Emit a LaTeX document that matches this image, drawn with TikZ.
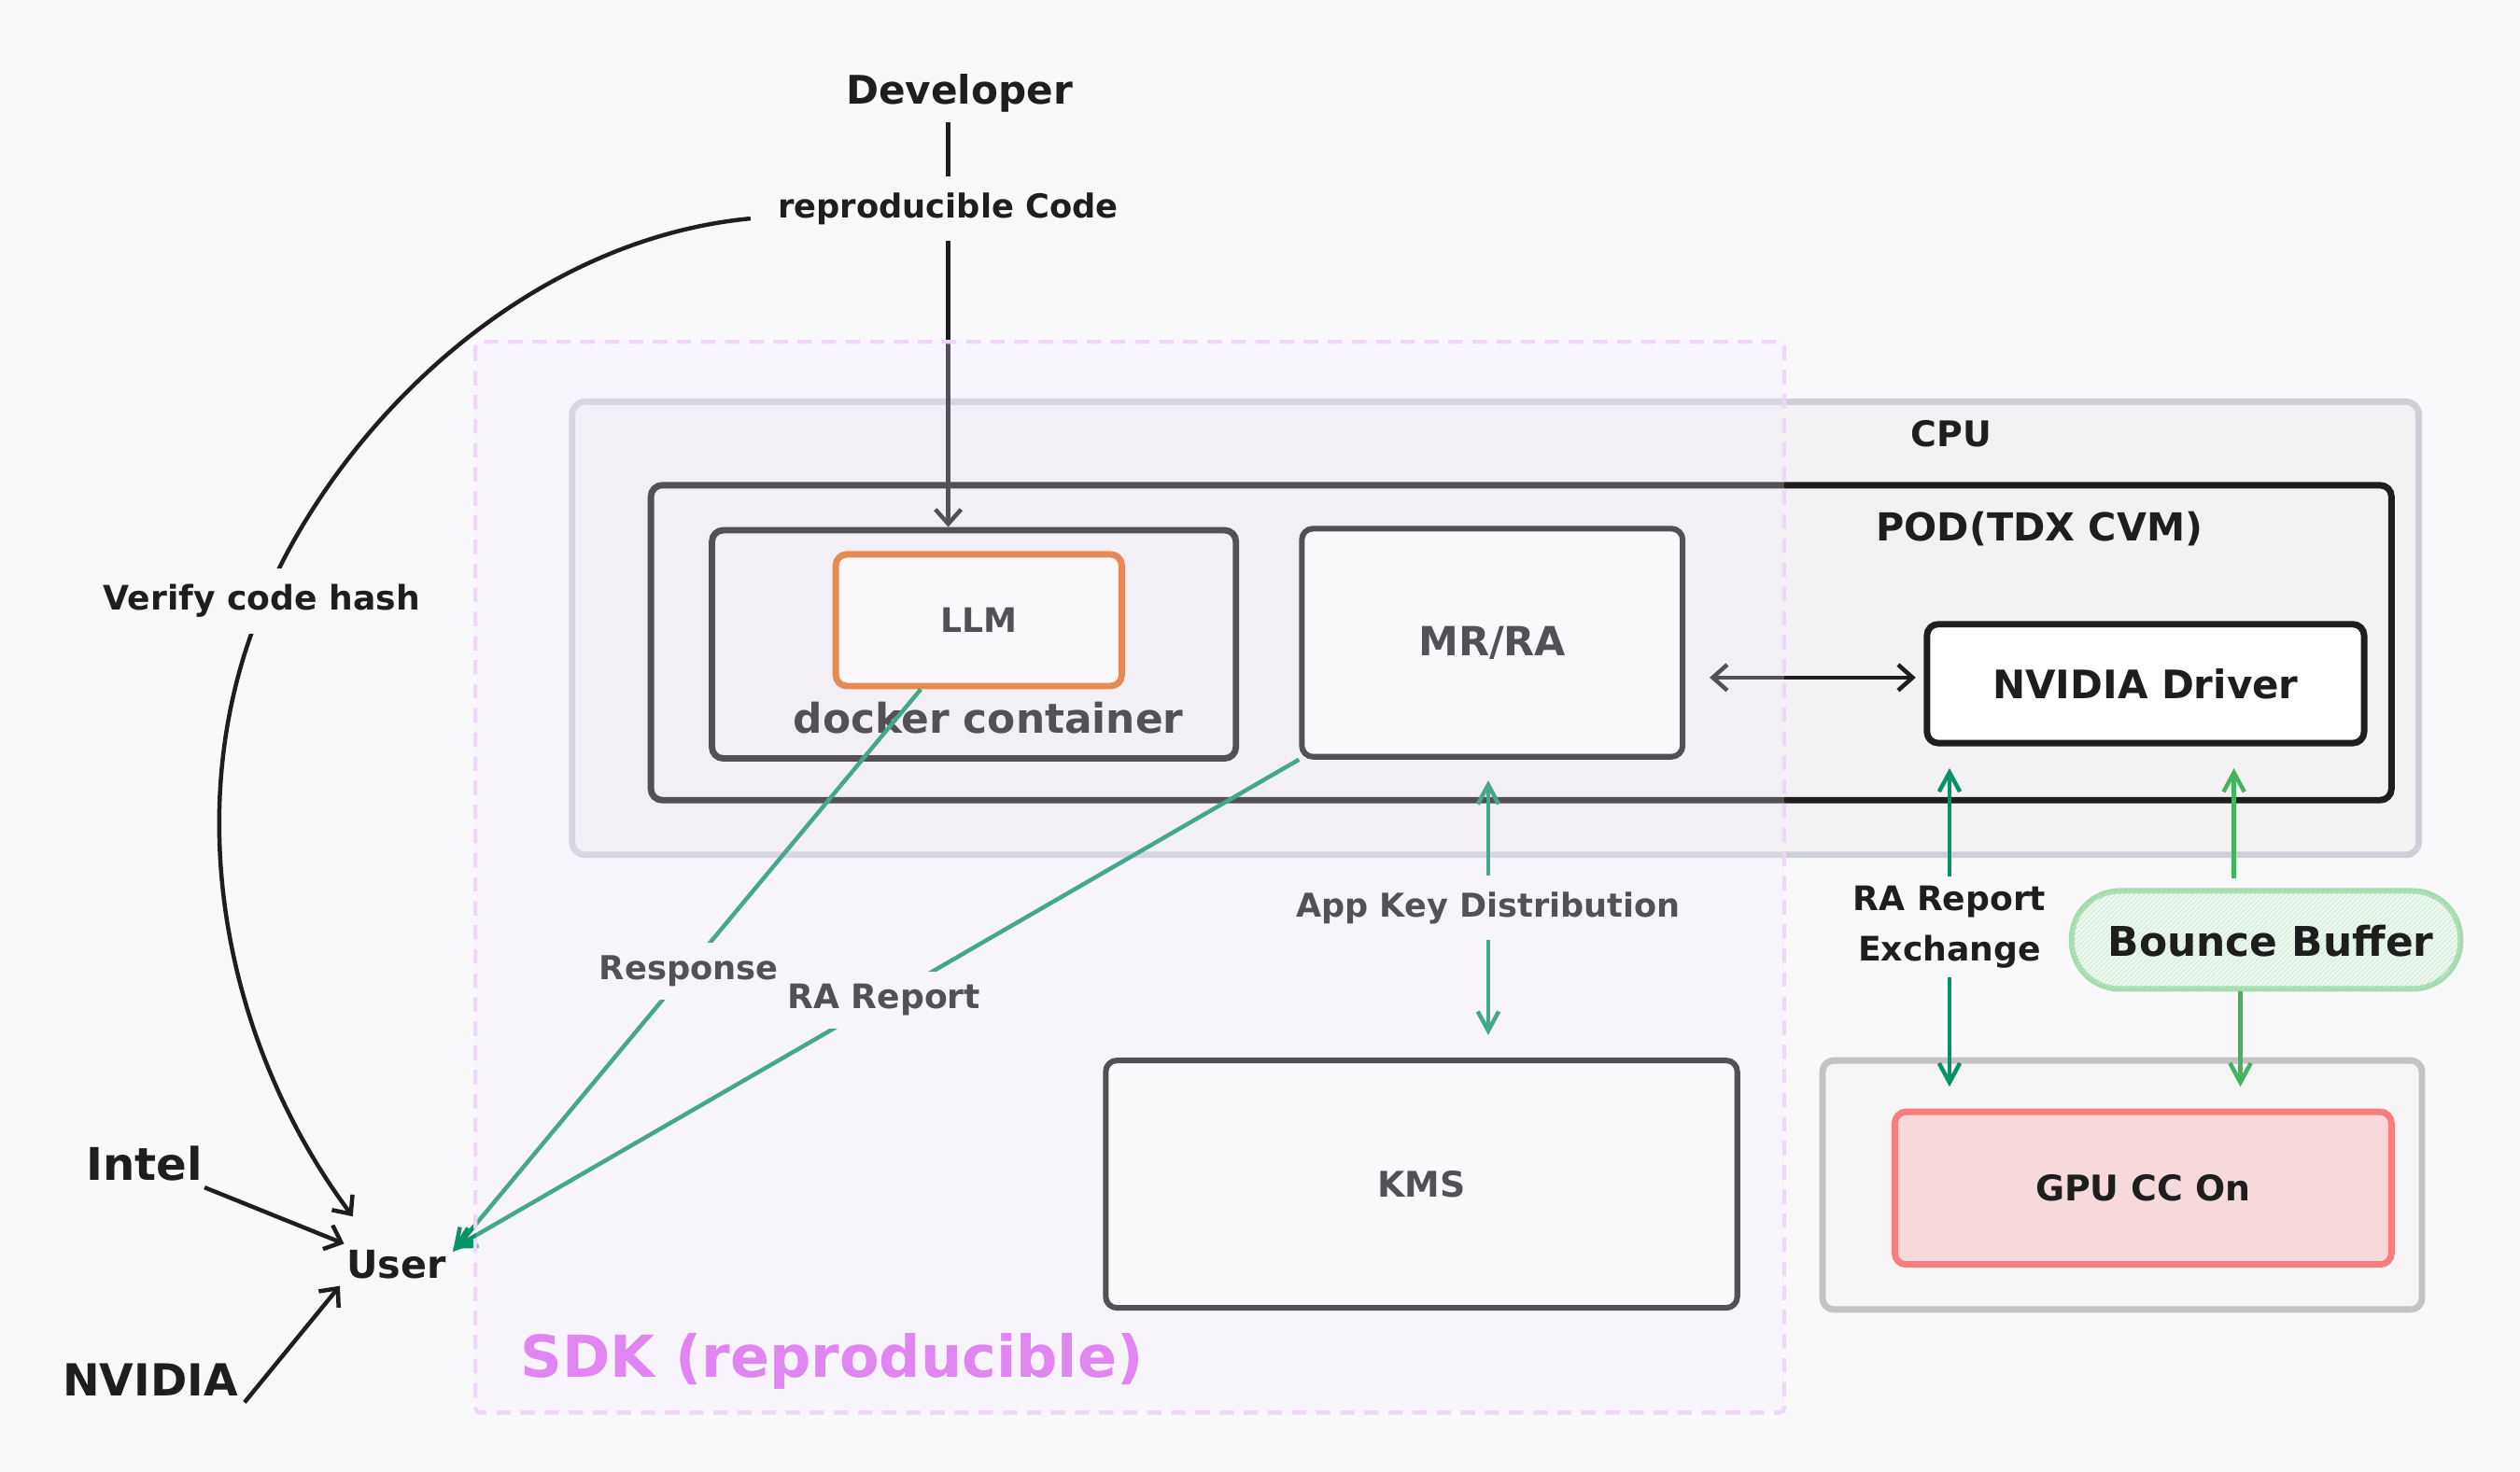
\documentclass[tikz,border=0pt]{standalone}
\usepackage{fontspec}
\setmainfont{DejaVu Sans}
\usetikzlibrary{arrows.meta,patterns,calc}
\definecolor{bg}{HTML}{F9F9FB}
\definecolor{ink}{HTML}{1E1E1E}
\definecolor{cpufill}{HTML}{F2F2F5}
\definecolor{cpuline}{HTML}{CDD1D7}
\definecolor{llmline}{HTML}{E2691A}
\definecolor{grteal}{HTML}{099268}
\definecolor{grlight}{HTML}{45B45F}
\definecolor{bbline}{HTML}{A6DAAF}
\definecolor{bbfill}{HTML}{EEF8F0}
\definecolor{bbhatch}{HTML}{C5E9CB}
\definecolor{gpuoline}{HTML}{C3C3C3}
\definecolor{gpuofill}{HTML}{F5F5F5}
\definecolor{gpuiline}{HTML}{F87D7D}
\definecolor{gpuifill}{HTML}{F6D9DA}
\definecolor{sdkfill}{HTML}{F4EAFB}
\definecolor{sdkline}{HTML}{F0D6F6}
\definecolor{sdktext}{HTML}{E085F2}
\newcommand\fsz[1]{\fontsize{#1}{#1}\selectfont\bfseries}
\begin{document}
\begin{tikzpicture}[x=1pt,y=-1pt,
  box/.style={draw=ink, line width=3.5pt, rounded corners=7pt, fill=white, inner sep=0pt, text=ink},
  txt/.style={text=ink, inner sep=4pt},
  lbl/.style={text=ink, fill=bg, inner xsep=6pt, inner ysep=10pt},
  barb/.tip={Straight Barb[length=9pt,width=16pt]},
  gbarb/.tip={Straight Barb[length=12pt,width=13pt]},
  barr/.style={draw=ink, line width=2.6pt, -barb},
  bdarr/.style={draw=ink, line width=2.6pt, barb-barb},
  tarr/.style={draw=grteal, line width=2.6pt, -gbarb},
  tdarr/.style={draw=grteal, line width=2.6pt, gbarb-gbarb},
  larr/.style={draw=grlight, line width=2.6pt, -gbarb}
]
\fill[bg] (0,0) rectangle (1568,916);
\useasboundingbox (0,0) rectangle (1568,916);

% containers
\node[draw=cpuline, fill=cpufill, line width=4pt, rounded corners=8pt, minimum width=1149pt, minimum height=282pt, inner sep=0pt] (cpu) at (930.5,391) {};
\node[txt, font=\fsz{22}] (cpulabel) at (1214,270) {CPU};
\node[draw=ink, fill=cpufill, line width=4pt, rounded corners=7pt, minimum width=1083pt, minimum height=196pt, inner sep=0pt] (pod) at (946.5,400) {};
\node[txt, font=\fsz{24}] (podlabel) at (1269,329) {POD(TDX CVM)};
\node[draw=ink, fill=cpufill, line width=4pt, rounded corners=7pt, minimum width=326pt, minimum height=142pt, inner sep=0pt] (docker) at (606,401) {};
\node[box, draw=llmline, line width=4pt, minimum width=178pt, minimum height=82pt, font=\fsz{21}] (llm) at (609,386) {LLM};
\node[txt, font=\fsz{25.5}] (dockerlabel) at (615,447) {docker container};
\node[box, minimum width=237pt, minimum height=142pt, font=\fsz{25}] (mrra) at (928.5,400) {MR/RA};
\node[box, line width=4pt, minimum width=272pt, minimum height=74pt, font=\fsz{24.4}] (nvd) at (1335,425.5) {NVIDIA Driver};
\node[box, minimum width=393pt, minimum height=154pt, font=\fsz{22}] (kms) at (884.5,737) {KMS};
\node[draw=gpuoline, fill=gpuofill, line width=4pt, rounded corners=7pt, minimum width=373pt, minimum height=155pt, inner sep=0pt] (gpuout) at (1320.5,737.5) {};
\node[box, draw=gpuiline, fill=gpuifill, line width=4pt, minimum width=309pt, minimum height=95pt, font=\fsz{22}] (gpuin) at (1333.5,739.5) {GPU CC On};
\node[draw=bbline, fill=bbfill, line width=3.5pt, rounded corners=30pt, minimum width=242pt, minimum height=61pt, inner sep=0pt, text=ink, font=\fsz{25.5},
  postaction={pattern=north east lines, pattern color=bbhatch}] (bb) at (1410,585) {};
\node[text=ink, font=\fsz{25.5}] (bbtext) at (1413,585.6) {Bounce Buffer};

% free text nodes
\node[txt, font=\fsz{24.5}] (dev) at (597,58) {Developer};
\node[txt, font=\fsz{28}] (intel) at (90,724) {Intel};
\node[txt, font=\fsz{27.5}] (nvidia) at (93.5,858.6) {NVIDIA};
\node[txt, font=\fsz{24}] (user) at (246.6,787.2) {User};

\coordinate (devx) at (590,0);
\coordinate (vstart) at (467,136);
\coordinate (vmid) at (158,390);
\coordinate (vend) at ([shift={(8,-17)}]user.north west);
\coordinate (rax) at (1213,0);
\coordinate (bbx1) at (1390,0);
\coordinate (bbx2) at (1394,0);

% connectors
\draw[barr, shorten <=2pt] (dev.south -| devx) -- (docker.north -| devx);
\draw[barr] (vstart) .. controls (320,150) and (200,275) .. (vmid) .. controls (112.5,512) and (142,653) .. (vend);
\draw[barr] (intel) -- (user);
\draw[barr] (nvidia.south east) -- (user.south west);
\draw[tarr] (llm.230) -- ([yshift=8pt]user.east);
\draw[tarr] (mrra.south west) -- ([yshift=10pt]user.east);
\draw[tdarr, shorten <=13pt, shorten >=14pt] ([xshift=-2.5pt]mrra.south) -- ([xshift=-2.5pt]mrra.south |- kms.north);
\draw[bdarr, shorten <=15pt, shorten >=5pt] ([yshift=-21.7pt]mrra.east) -- ([yshift=3.8pt]nvd.west);
\draw[tdarr, shorten <=13.5pt, shorten >=13.6pt] (nvd.south -| rax) -- (gpuin.north -| rax);
\draw[larr, shorten <=6pt, shorten >=13.6pt] (bb.north -| bbx1) -- (nvd.south -| bbx1);
\draw[larr, shorten >=13.6pt] (bb.south -| bbx2) -- (gpuin.north -| bbx2);

% connector labels
\node[lbl, font=\fsz{20.5}] (rcode) at (590,130) {reproducible Code};
\node[lbl, font=\fsz{21}] (verify) at (163,374) {Verify code hash};
\node[lbl, inner ysep=8pt, font=\fsz{20.5}] (resp) at (428.6,604.4) {Response};
\node[lbl, inner ysep=8pt, font=\fsz{21}] (rarep) at (550,622.5) {RA Report};
\node[lbl, font=\fsz{20.4}] (appkey) at (926,565) {App Key Distribution};
\node[lbl, align=center, inner ysep=6pt, font=\fontsize{21}{31}\selectfont\bfseries] (raex) at (1213,577) {RA Report\\Exchange};

% SDK overlay
\node[fill=sdkfill, fill opacity=0.25, minimum width=814pt, minimum height=666pt, inner sep=0pt] (sdk) at (703,546) {};
\draw[draw=sdkline, line width=2.5pt, dash pattern=on 9pt off 6pt, rounded corners=3pt] (sdk.north west) rectangle (sdk.south east);
\node[text=sdktext, font=\fsz{36}] (sdklabel) at (517.7,847) {SDK (reproducible)};
\end{tikzpicture}
\end{document}
